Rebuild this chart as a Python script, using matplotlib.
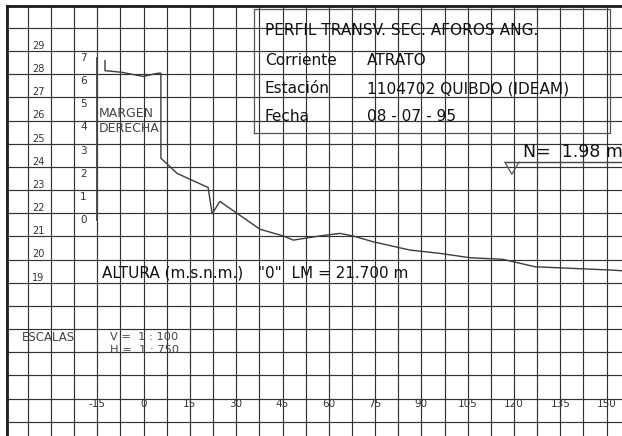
import matplotlib
matplotlib.use("Agg")
import matplotlib.pyplot as plt
import numpy as np

# ---------------- data ----------------
# ground profile (distance m, elevation m.s.n.m.)
profile_x = [-12.5, -12.5, -7.1, -0.1, 4.6, 5.6, 5.6, 8.0, 10.8, 20.9, 22.2, 24.7,
             37.7, 45.2, 48.5, 57.1, 63.6, 67.8, 74.3, 86.3, 95.9, 105.7, 116.4,
             126.8, 151.1, 156.0]
profile_z = [28.58, 28.15, 28.08, 27.90, 28.04, 28.04, 24.37, 24.08, 23.72, 23.11,
             21.97, 22.51, 21.31, 21.02, 20.84, 21.02, 21.13, 21.02, 20.77, 20.41,
             20.27, 20.08, 20.01, 19.69, 19.55, 19.51]

zero_lm = 21.700                 # "0" of the staff gauge
stage_labels = [0, 1, 2, 3, 4, 5, 6, 7]
stage_x = -15.0
elev_labels = [19, 20, 21, 22, 23, 24, 25, 26, 27, 28, 29]
x_tick_labels = [-15, 0, 15, 30, 45, 60, 75, 90, 105, 120, 135, 150]
water_stage = 1.98
water_x = 119.3

title_lines = ["PERFIL TRANSV. SEC. AFOROS ANG."]
info_keys = ["Corriente", "Estación", "Fecha"]
info_vals = ["ATRATO", "1104702 QUIBDO (IDEAM)", "08 - 07 - 95"]

# ---------------- layout helpers ----------------
W, H = 622, 436
X0, XS = 143.6, 3.087      # px of x=0, px per metre
Z21, ZS = 236.4, 23.18      # px of elev 21, px per metre


def px_x(p):
    return (p - X0) / XS


def px_z(p):
    return 21 + (Z21 - p) / ZS


fig = plt.figure(figsize=(W / 100, H / 100), dpi=100)
ax = fig.add_axes([0, 0, 1, 1])
ax.set_xlim(px_x(0), px_x(W))
ax.set_ylim(px_z(H), px_z(0))
ax.axis("off")

grid_c = "#333333"
x_left = px_x(7)
z_top = px_z(6.5)

# grid
for gx in np.arange(-37.5, 156, 7.5):
    ax.plot([gx, gx], [px_z(H + 5), z_top], color=grid_c, lw=0.85, zorder=1)
for gz in range(13, 31):
    ax.plot([x_left, px_x(W + 5)], [gz, gz], color=grid_c, lw=0.85, zorder=1)

# frame borders
ax.plot([x_left, px_x(W + 5)], [z_top, z_top], color="#1a1a1a", lw=2.0, zorder=3)
ax.plot([x_left, x_left], [px_z(H + 5), z_top], color="#1a1a1a", lw=2.0, zorder=3)

# title box
bx0, bx1 = px_x(254), px_x(610)
bz0, bz1 = px_z(133), px_z(9.5)
ax.plot([bx0, bx1, bx1, bx0, bx0], [bz0, bz0, bz1, bz1, bz0], color="#555555",
        lw=0.9, zorder=2)

ax.text(px_x(265), px_z(35), title_lines[0], fontsize=11.1, ha="left",
        va="baseline", color="#111111", zorder=4)
for i, (k, v) in enumerate(zip(info_keys, info_vals)):
    zb = px_z([65, 93, 121][i])
    ax.text(px_x(265), zb, k, fontsize=11.1, ha="left", va="baseline",
            color="#111111", zorder=4)
    ax.text(px_x(367), zb, v, fontsize=11.1, ha="left", va="baseline",
            color="#111111", zorder=4)

# elevation labels
for e in elev_labels:
    ax.text(px_x(32), e + 0.22, str(e), fontsize=7, ha="left", va="center",
            color="#333333", zorder=4)

# staff gauge
ax.plot([stage_x, stage_x], [zero_lm, zero_lm + stage_labels[-1]],
        color="#444444", lw=1.3, zorder=3)
for s in stage_labels:
    ax.text(px_x(83.5), zero_lm + s, str(s), fontsize=7.5, ha="center",
            va="center", color="#333333", zorder=4)

ax.text(px_x(99), px_z(117), "MARGEN", fontsize=9, ha="left", va="baseline",
        color="#444444", zorder=4)
ax.text(px_x(99), px_z(132), "DERECHA", fontsize=9, ha="left", va="baseline",
        color="#444444", zorder=4)

# ground profile
ax.plot(profile_x, profile_z, color="#3c3c3c", lw=1.0, zorder=3,
        solid_joinstyle="miter")

# water level symbol
wz = zero_lm + water_stage
tri_half = 7 / XS
tri_h = 12 / ZS
ax.plot([water_x - tri_half, water_x, water_x + tri_half],
        [wz + tri_h, wz, wz + tri_h], color="#555555", lw=0.9, zorder=3)
ax.plot([water_x - tri_half, px_x(W + 5)], [wz + tri_h, wz + tri_h],
        color="#444444", lw=1.0, zorder=3)
ax.text(px_x(523), px_z(157), "N=  1.98 m", fontsize=12.5, ha="left",
        va="baseline", color="#111111", zorder=4)

# altura text
ax.text(px_x(102), px_z(277), 'ALTURA (m.s.n.m.)   "0"  LM = 21.700 m',
        fontsize=11, ha="left", va="baseline", color="#111111", zorder=4)

# escalas
ax.text(px_x(22), px_z(337), "ESCALAS", fontsize=8.5, ha="left", va="center",
        color="#444444", zorder=4)
ax.text(px_x(110), px_z(337), "V =  1 : 100", fontsize=8.2, ha="left",
        va="center", color="#444444", zorder=4)
ax.text(px_x(110), px_z(350), "H =  1 : 750", fontsize=8.2, ha="left",
        va="center", color="#444444", zorder=4)

# x tick labels
for t in x_tick_labels:
    ax.text(t, px_z(404), str(t), fontsize=7.5, ha="center", va="center",
            color="#333333", zorder=4)

fig.savefig("out.png", dpi=100, facecolor="white")
